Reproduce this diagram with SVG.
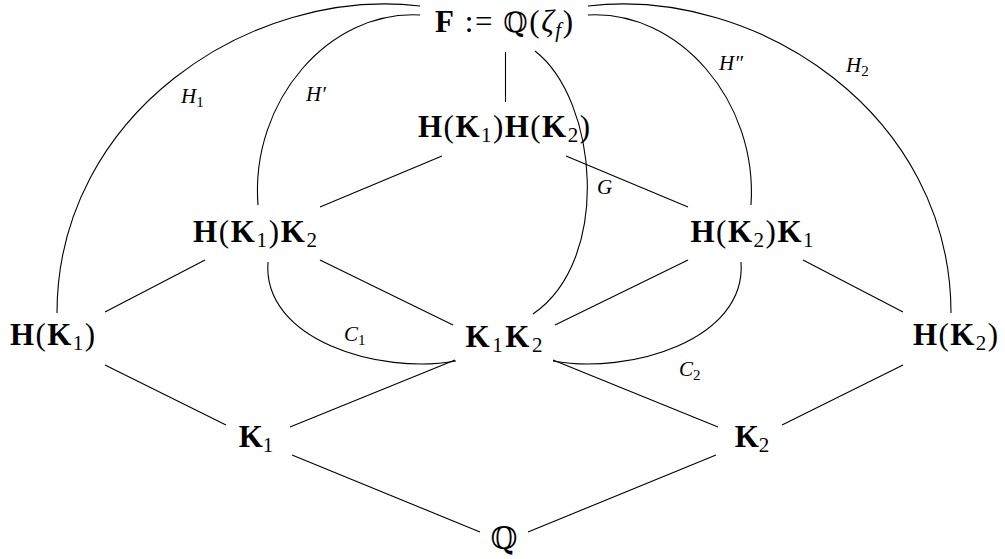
<svg xmlns="http://www.w3.org/2000/svg" width="1005" height="559" viewBox="0 0 1005 559">
<style>
.n{font-family:"Liberation Serif",serif;font-size:31px;fill:#000}
.b{font-weight:bold}
.s{font-size:21px}
.bb{font-family:"DejaVu Serif",serif;font-size:28px}
.i{font-style:italic}
.e{font-family:"Liberation Serif",serif;font-size:21px;font-style:italic;fill:#000}
.es{font-size:15px;font-style:normal}
.c path,.c line{fill:none;stroke:#000;stroke-width:1.1}
</style>
<rect width="1005" height="559" fill="#fff"/>
<g class="c" id="connectors">
<line x1="505.5" y1="52" x2="505.5" y2="102"/>
<line x1="442" y1="156" x2="320" y2="207"/>
<line x1="566" y1="156" x2="688" y2="207"/>
<line x1="205" y1="260" x2="105" y2="312"/>
<line x1="803" y1="260" x2="903" y2="312"/>
<line x1="320" y1="260" x2="453" y2="325"/>
<line x1="688" y1="260" x2="555" y2="325"/>
<line x1="105" y1="365" x2="226" y2="425"/>
<line x1="903" y1="365" x2="782" y2="425"/>
<line x1="455" y1="360" x2="290" y2="427"/>
<line x1="553" y1="360" x2="718" y2="427"/>
<line x1="292" y1="455" x2="480" y2="532"/>
<line x1="716" y1="455" x2="528" y2="532"/>
<path d="M420 6 C250 -14 57 115 57 313"/>
<path d="M588 6 C758 -14 951 115 951 313"/>
<path d="M420 15 C330 10 250 100 258 205"/>
<path d="M588 15 C678 10 758 100 751 205"/>
<path d="M535 51 C598 100 612 260 533 314"/>
<path d="M268 262 C262 340 380 375 456 361"/>
<path d="M741 262 C747 340 629 375 553 361"/>
</g>
<g id="edge-labels">
<text class="e" x="181" y="103">H<tspan class="es" dy="4">1</tspan></text>
<text class="e" x="306" y="101">H′</text>
<text class="e" x="719" y="70">H″</text>
<text class="e" x="846" y="72">H<tspan class="es" dy="4">2</tspan></text>
<text class="e" x="597" y="194">G</text>
<text class="e" x="344" y="341">C<tspan class="es" dy="4">1</tspan></text>
<text class="e" x="679" y="376">C<tspan class="es" dy="4">2</tspan></text>
</g>
<g id="node-F"><text class="n" x="504" y="32" text-anchor="middle" textLength="138" lengthAdjust="spacing"><tspan class="b">F</tspan> := <tspan class="bb">ℚ</tspan>(<tspan class="i">ζ</tspan><tspan class="i s" dy="5">f</tspan><tspan dy="-5">)</tspan></text></g>
<g id="node-HK1HK2"><text class="n" x="504" y="137" text-anchor="middle" textLength="172" lengthAdjust="spacing"><tspan class="b">H</tspan>(<tspan class="b">K</tspan><tspan class="s" dy="5">1</tspan><tspan dy="-5">)</tspan><tspan class="b">H</tspan>(<tspan class="b">K</tspan><tspan class="s" dy="5">2</tspan><tspan dy="-5">)</tspan></text></g>
<g id="node-HK1K2"><text class="n" x="255" y="242" text-anchor="middle" textLength="124" lengthAdjust="spacing"><tspan class="b">H</tspan>(<tspan class="b">K</tspan><tspan class="s" dy="5">1</tspan><tspan dy="-5">)</tspan><tspan class="b">K</tspan><tspan class="s" dy="5">2</tspan></text></g>
<g id="node-HK2K1"><text class="n" x="752" y="242" text-anchor="middle" textLength="123" lengthAdjust="spacing"><tspan class="b">H</tspan>(<tspan class="b">K</tspan><tspan class="s" dy="5">2</tspan><tspan dy="-5">)</tspan><tspan class="b">K</tspan><tspan class="s" dy="5">1</tspan></text></g>
<g id="node-HK1"><text class="n" x="52.5" y="345" text-anchor="middle" textLength="85" lengthAdjust="spacing"><tspan class="b">H</tspan>(<tspan class="b">K</tspan><tspan class="s" dy="5">1</tspan><tspan dy="-5">)</tspan></text></g>
<g id="node-HK2"><text class="n" x="955.5" y="345" text-anchor="middle" textLength="85" lengthAdjust="spacing"><tspan class="b">H</tspan>(<tspan class="b">K</tspan><tspan class="s" dy="5">2</tspan><tspan dy="-5">)</tspan></text></g>
<g id="node-K1K2"><text class="n" x="504" y="347" text-anchor="middle" textLength="77" lengthAdjust="spacing"><tspan class="b">K</tspan><tspan class="s" dy="5">1</tspan><tspan class="b" dy="-5">K</tspan><tspan class="s" dy="5">2</tspan></text></g>
<g id="node-K1"><text class="n" x="256" y="447" text-anchor="middle"><tspan class="b">K</tspan><tspan class="s" dy="5">1</tspan></text></g>
<g id="node-K2"><text class="n" x="752" y="447" text-anchor="middle"><tspan class="b">K</tspan><tspan class="s" dy="5">2</tspan></text></g>
<g id="node-Q"><text class="n bb" x="504" y="549" text-anchor="middle" style="font-size:31px">ℚ</text></g>
</svg>
